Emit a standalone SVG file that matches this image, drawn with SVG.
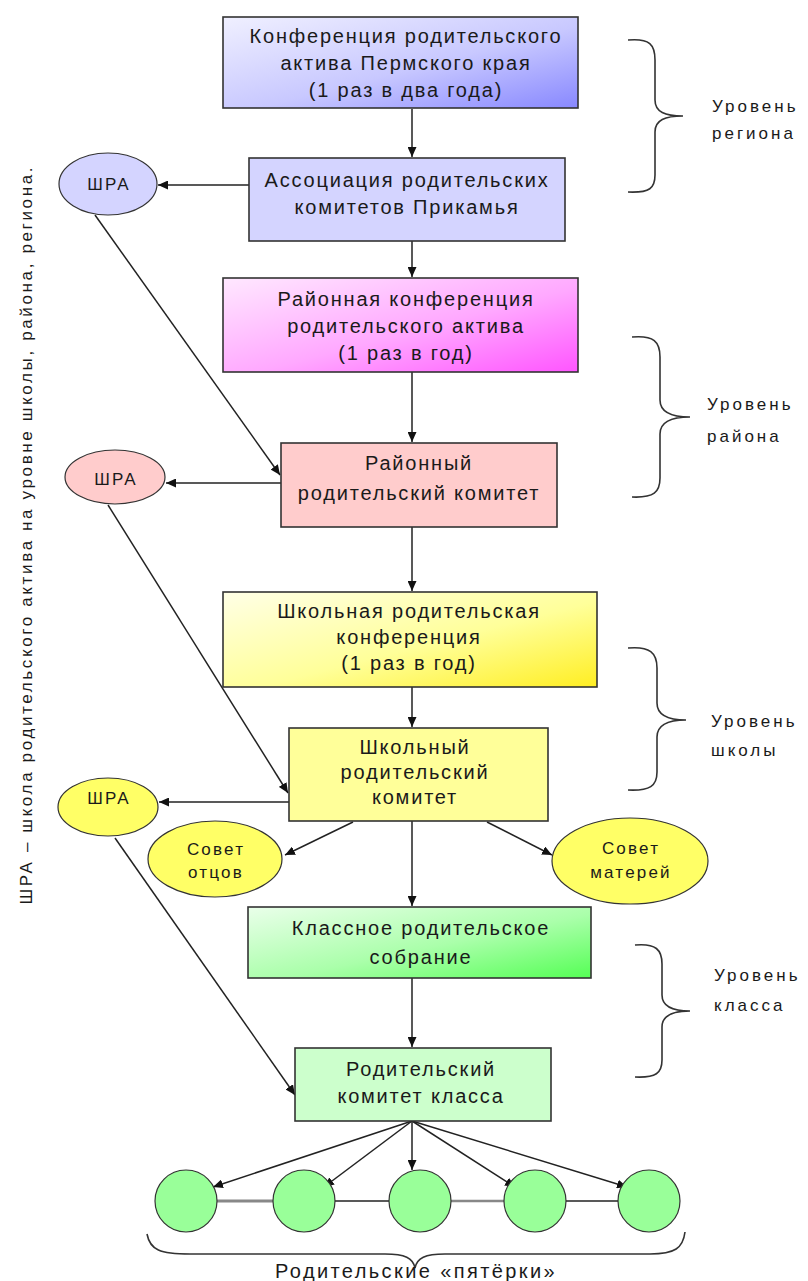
<svg xmlns="http://www.w3.org/2000/svg" width="808" height="1281" viewBox="0 0 808 1281">
<defs>
<linearGradient id="gBlue" x1="0" y1="0" x2="1" y2="1"><stop offset="0" stop-color="#f0f0ff"/><stop offset="0.55" stop-color="#c8c8ff"/><stop offset="1" stop-color="#8888ff"/></linearGradient>
<linearGradient id="gPink" x1="0" y1="0" x2="1" y2="1"><stop offset="0" stop-color="#ffe8ff"/><stop offset="0.55" stop-color="#ffa8ff"/><stop offset="1" stop-color="#ff55ff"/></linearGradient>
<linearGradient id="gYellow" x1="0" y1="0" x2="1" y2="1"><stop offset="0" stop-color="#ffffe6"/><stop offset="0.55" stop-color="#ffff99"/><stop offset="1" stop-color="#ffee22"/></linearGradient>
<linearGradient id="gGreen" x1="0" y1="0" x2="1" y2="1"><stop offset="0" stop-color="#eaffea"/><stop offset="0.55" stop-color="#aaffaa"/><stop offset="1" stop-color="#55ff55"/></linearGradient>
<marker id="arr" markerUnits="userSpaceOnUse" markerWidth="11" markerHeight="9" refX="10" refY="4.5" orient="auto"><path d="M0,0 L10,4.5 L0,9 z" fill="#111"/></marker>
</defs>
<style>
.box{stroke:#333;stroke-width:1.6}
.ell{stroke:#333;stroke-width:1.2}
.t{font-family:"Liberation Sans",Arial,sans-serif;font-size:20px;fill:#1a1a1a;text-anchor:middle;letter-spacing:1.8px}
.s{font-family:"Liberation Sans",Arial,sans-serif;font-size:17px;fill:#1a1a1a;text-anchor:middle;letter-spacing:2.2px}
.l{font-family:"Liberation Sans",Arial,sans-serif;font-size:17px;fill:#1a1a1a;letter-spacing:3px}
.c{fill:none;stroke:#222;stroke-width:1.5}
.a{fill:none;stroke:#222;stroke-width:1.5;marker-end:url(#arr)}
.br{fill:none;stroke:#333;stroke-width:1.6}
</style>
<rect width="808" height="1281" fill="#fff"/>

<g id="connectors">
<line class="a" x1="412" y1="109" x2="412" y2="157"/>
<line class="a" x1="412" y1="241" x2="412" y2="277"/>
<line class="a" x1="412" y1="372" x2="412" y2="442"/>
<line class="a" x1="412" y1="527" x2="412" y2="591"/>
<line class="a" x1="412" y1="687" x2="412" y2="727"/>
<line class="a" x1="412" y1="821" x2="412" y2="906"/>
<line class="a" x1="412" y1="978" x2="412" y2="1047"/>
<line class="a" x1="249" y1="185" x2="158" y2="185"/>
<line class="a" x1="281" y1="483" x2="166" y2="483"/>
<line class="a" x1="289" y1="802" x2="159" y2="802"/>
<line class="a" x1="95" y1="215" x2="280" y2="475"/>
<line class="a" x1="108" y1="505" x2="288" y2="793"/>
<line class="a" x1="115" y1="838" x2="295" y2="1095"/>
<line class="a" x1="353" y1="822" x2="285" y2="855"/>
<line class="a" x1="487" y1="822" x2="552" y2="855"/>
<line class="a" x1="412" y1="1121" x2="213" y2="1187"/>
<line class="a" x1="412" y1="1121" x2="324" y2="1187"/>
<line class="a" x1="412" y1="1121" x2="412" y2="1170"/>
<line class="a" x1="412" y1="1121" x2="515" y2="1187"/>
<line class="a" x1="412" y1="1121" x2="627" y2="1187"/>
<line x1="217" y1="1201" x2="273" y2="1201" stroke="#888" stroke-width="3"/>
<line class="c" x1="335" y1="1201" x2="389" y2="1201"/>
<line x1="451" y1="1201" x2="504" y2="1201" stroke="#888" stroke-width="2.5"/>
<line class="c" x1="566" y1="1201" x2="618" y2="1201"/>
</g>

<g id="n1"><rect class="box" x="223" y="17" width="355" height="91" fill="url(#gBlue)"/>
<text class="t" x="406" y="43">Конференция родительского</text>
<text class="t" x="406" y="70">актива Пермского края</text>
<text class="t" x="406" y="97">(1 раз в два года)</text></g>

<g id="n2"><rect class="box" x="249" y="158" width="316" height="83" fill="#d4d4ff"/>
<text class="t" x="407" y="187">Ассоциация родительских</text>
<text class="t" x="407" y="214">комитетов Прикамья</text></g>

<g id="n3"><rect class="box" x="223" y="278" width="355" height="94" fill="url(#gPink)"/>
<text class="t" x="406" y="306">Районная конференция</text>
<text class="t" x="406" y="333">родительского актива</text>
<text class="t" x="406" y="360">(1 раз в год)</text></g>

<g id="n4"><rect class="box" x="281" y="443" width="276" height="84" fill="#ffcccc"/>
<text class="t" x="419" y="470">Районный</text>
<text class="t" x="419" y="500">родительский комитет</text></g>

<g id="n5"><rect class="box" x="223" y="592" width="374" height="95" fill="url(#gYellow)"/>
<text class="t" x="409" y="618">Школьная родительская</text>
<text class="t" x="409" y="644">конференция</text>
<text class="t" x="409" y="670">(1 раз в год)</text></g>

<g id="n6"><rect class="box" x="289" y="728" width="259" height="93" fill="#ffff99"/>
<text class="t" x="415" y="754">Школьный</text>
<text class="t" x="415" y="779">родительский</text>
<text class="t" x="415" y="804">комитет</text></g>

<g id="n7"><rect class="box" x="248" y="907" width="343" height="71" fill="url(#gGreen)"/>
<text class="t" x="421" y="935">Классное родительское</text>
<text class="t" x="421" y="964">собрание</text></g>

<g id="n8"><rect class="box" x="295" y="1048" width="256" height="73" fill="#ccffcc"/>
<text class="t" x="421" y="1076">Родительский</text>
<text class="t" x="421" y="1103">комитет класса</text></g>

<g id="e1"><ellipse class="ell" cx="108" cy="184" rx="49" ry="31" fill="#d4d4ff"/><text class="s" x="109" y="190">ШРА</text></g>
<g id="e2"><ellipse class="ell" cx="115" cy="477" rx="50" ry="27" fill="#ffcccc"/><text class="s" x="116" y="485">ШРА</text></g>
<g id="e3"><ellipse class="ell" cx="108" cy="807" rx="50" ry="29" fill="#ffff66"/><text class="s" x="109" y="804">ШРА</text></g>
<g id="e4"><ellipse class="ell" cx="215" cy="859" rx="67" ry="38" fill="#ffff66"/><text class="s" x="216" y="855">Совет</text><text class="s" x="216" y="878">отцов</text></g>
<g id="e5"><ellipse class="ell" cx="630" cy="861" rx="78" ry="43" fill="#ffff66"/><text class="s" x="631" y="854">Совет</text><text class="s" x="631" y="878">матерей</text></g>

<g id="p1"><circle class="ell" cx="186" cy="1201" r="31" fill="#99ff99"/></g>
<g id="p2"><circle class="ell" cx="304" cy="1201" r="31" fill="#99ff99"/></g>
<g id="p3"><circle class="ell" cx="420" cy="1201" r="31" fill="#99ff99"/></g>
<g id="p4"><circle class="ell" cx="535" cy="1201" r="31" fill="#99ff99"/></g>
<g id="p5"><circle class="ell" cx="649" cy="1201" r="31" fill="#99ff99"/></g>

<g id="brackets">
<path class="br" d="M628,40 C650,38 655,45 655,60 L655,100 C655,112 665,116 683,116 C665,116 655,120 655,132 L655,175 C655,188 650,193 628,192"/>
<path class="br" d="M632,337 C654,335 660,342 660,357 L660,400 C660,412 670,417 690,417 C670,417 660,422 660,434 L660,478 C660,492 654,498 632,497"/>
<path class="br" d="M628,648 C650,646 657,653 657,668 L657,703 C657,715 667,720 686,720 C667,720 657,725 657,737 L657,772 C657,786 650,791 628,790"/>
<path class="br" d="M635,945 C656,943 662,950 662,964 L662,995 C662,1006 672,1011 690,1011 C672,1011 662,1016 662,1027 L662,1060 C662,1073 656,1078 635,1077"/>
<path class="br" d="M147,1234 C150,1250 160,1254 190,1254 L385,1254 C405,1254 413,1258 415,1268 C417,1258 425,1254 445,1254 L650,1254 C675,1254 683,1248 685,1232"/>
</g>

<g id="labels">
<text class="l" x="712" y="112">Уровень</text>
<text class="l" x="712" y="139">региона</text>
<text class="l" x="707" y="410">Уровень</text>
<text class="l" x="707" y="442">района</text>
<text class="l" x="711" y="727">Уровень</text>
<text class="l" x="711" y="756">школы</text>
<text class="l" x="714" y="981">Уровень</text>
<text class="l" x="714" y="1011">класса</text>
<text class="t" x="416" y="1278" style="letter-spacing:2.4px">Родительские «пятёрки»</text>
<text class="s" transform="translate(32,536) rotate(-90)" x="0" y="0" textLength="737" style="letter-spacing:0">ШРА – школа родительского  актива на уровне школы, района,  региона.</text>
</g>
</svg>
